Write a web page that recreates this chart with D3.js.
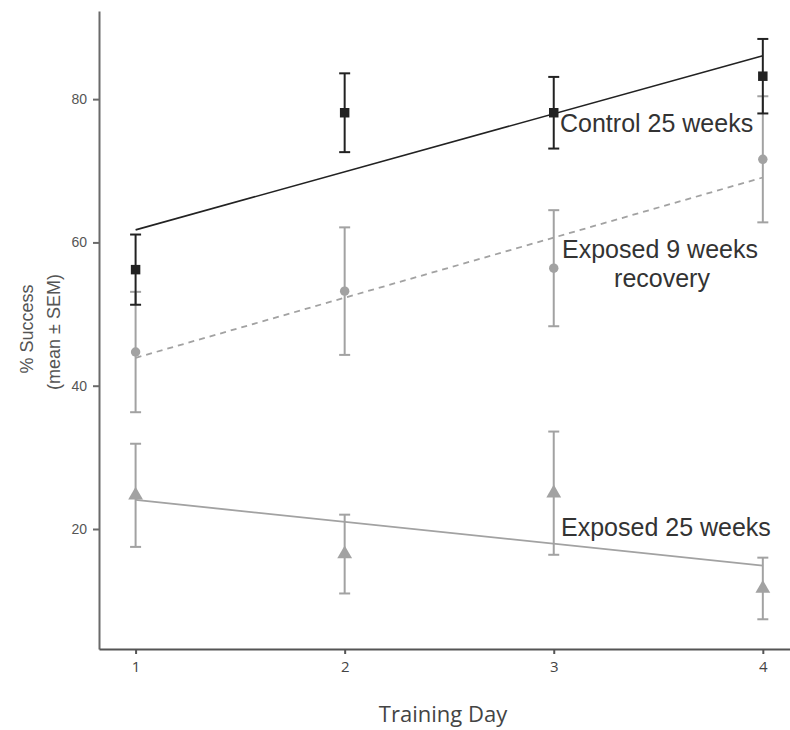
<!DOCTYPE html>
<html>
<head>
<meta charset="utf-8">
<script src="https://cdn.jsdelivr.net/npm/d3@7"></script>
<style>
  body { margin: 0; background: #fff; }
  svg { display: block; }
</style>
</head>
<body>
<div id="chart"></div>
<script>
// data
var days = [1, 2, 3, 4];
var controlMean = [56.2, 78.1, 78.1, 83.2];
var controlSem = [4.9, 5.5, 5.0, 5.2];
var recoveryMean = [44.7, 53.2, 56.4, 71.6];
var recoverySem = [8.4, 8.9, 8.1, 8.8];
var exposedMean = [24.7, 16.5, 25.0, 11.7];
var exposedSem = [7.2, 5.5, 8.6, 4.3];
var yTicks = [20, 40, 60, 80];
var seriesLabels = ['Control 25 weeks', 'Exposed 9 weeks', 'recovery', 'Exposed 25 weeks'];

var WIDTH = 790;
var HEIGHT = 730;
var DARK = '#222';
var GREY = '#a2a2a2';

var svg = d3.select('#chart')
  .append('svg')
    .attr('width', WIDTH)
    .attr('height', HEIGHT);

// set the ranges
var x = d3.scaleLinear().domain([0.825, 4.13]).range([99, 790]);
var y = d3.scaleLinear().domain([3.25, 92.3]).range([649, 11]);

function rows(means, sems) {
  return days.map(function (d, i) { return { day: d, mean: means[i], sem: sems[i] }; });
}

// least squares line through the means
function fitLine(data) {
  var mx = d3.mean(data, function (d) { return d.day; });
  var my = d3.mean(data, function (d) { return d.mean; });
  var sxy = d3.sum(data, function (d) { return (d.day - mx) * (d.mean - my); });
  var sxx = d3.sum(data, function (d) { return (d.day - mx) * (d.day - mx); });
  var b = sxy / sxx;
  var first = days[0], last = days[days.length - 1];
  return [{ day: first, mean: my + b * (first - mx) }, { day: last, mean: my + b * (last - mx) }];
}

var line = d3.line()
  .x(function (d) { return x(d.day); })
  .y(function (d) { return y(d.mean); });

var series = [
  { data: rows(exposedMean, exposedSem), color: GREY, dash: null, shape: d3.symbolTriangle, size: 95 },
  { data: rows(recoveryMean, recoverySem), color: GREY, dash: '6,5', shape: d3.symbolCircle, size: 70 },
  { data: rows(controlMean, controlSem), color: DARK, dash: null, shape: d3.symbolSquare, size: 90 }
];

// axes
var yAxis = svg.append('g')
  .attr('transform', 'translate(' + x.range()[0] + ',0)')
  .call(d3.axisLeft(y).tickValues(yTicks).tickSize(6).tickSizeOuter(0).tickPadding(6));

var xAxis = svg.append('g')
  .attr('transform', 'translate(0,' + y.range()[0] + ')')
  .call(d3.axisBottom(x).tickValues(days).tickSize(5).tickSizeOuter(0).tickPadding(7).tickFormat(d3.format('d')));

yAxis.selectAll('path, line').attr('stroke', '#6a6a6a').attr('stroke-width', 2);
xAxis.selectAll('path, line').attr('stroke', '#555').attr('stroke-width', 2);
yAxis.selectAll('text')
  .attr('fill', '#555')
  .style('font-family', '"Liberation Sans", Arial, sans-serif')
  .style('font-size', '14px');
xAxis.selectAll('text')
  .attr('fill', '#444')
  .style('font-family', '"Open Sans", sans-serif')
  .style('font-size', '15px');

// axis titles
svg.append('text')
  .attr('transform', 'translate(443,722)')
  .attr('text-anchor', 'middle')
  .attr('fill', '#444')
  .style('font-family', '"Open Sans", sans-serif')
  .style('font-size', '22px')
  .text('Training Day');

svg.append('text')
  .attr('transform', 'translate(33,329) rotate(-90)')
  .attr('text-anchor', 'middle')
  .attr('fill', '#555')
  .style('font-family', '"Liberation Sans", Arial, sans-serif')
  .style('font-size', '18px')
  .text('% Success');

svg.append('text')
  .attr('transform', 'translate(60,332) rotate(-90)')
  .attr('text-anchor', 'middle')
  .attr('fill', '#555')
  .style('font-family', '"Liberation Sans", Arial, sans-serif')
  .style('font-size', '18px')
  .text('(mean \u00b1 SEM)');

// fitted lines
series.forEach(function (s) {
  svg.append('path')
    .datum(fitLine(s.data))
    .attr('fill', 'none')
    .attr('stroke', s.color)
    .attr('stroke-width', s.color === DARK ? 1.6 : 1.8)
    .attr('stroke-dasharray', s.dash)
    .attr('d', line);
});

// error bars and points
series.forEach(function (s) {
  var g = svg.append('g');
  var bars = g.selectAll('.err')
    .data(s.data)
    .enter().append('g')
      .attr('class', 'err')
      .attr('stroke', s.color)
      .attr('stroke-width', s.color === DARK ? 2 : 2);
  bars.append('line')
    .attr('x1', function (d) { return x(d.day); })
    .attr('x2', function (d) { return x(d.day); })
    .attr('y1', function (d) { return y(d.mean - d.sem); })
    .attr('y2', function (d) { return y(d.mean + d.sem); });
  [-1, 1].forEach(function (sign) {
    bars.append('line')
      .attr('x1', function (d) { return x(d.day) - 5.5; })
      .attr('x2', function (d) { return x(d.day) + 5.5; })
      .attr('y1', function (d) { return y(d.mean + sign * d.sem); })
      .attr('y2', function (d) { return y(d.mean + sign * d.sem); });
  });

  g.selectAll('.pt')
    .data(s.data)
    .enter().append('path')
      .attr('class', 'pt')
      .attr('fill', s.color)
      .attr('transform', function (d) { return 'translate(' + x(d.day) + ',' + y(d.mean) + ')'; })
      .attr('d', d3.symbol().type(s.shape).size(s.size));
});

// series labels
var labelPos = [
  { x: 560, y: 132, anchor: 'start' },
  { x: 562, y: 258, anchor: 'start' },
  { x: 662, y: 287, anchor: 'middle' },
  { x: 561, y: 536, anchor: 'start' }
];
svg.append('g').selectAll('text')
  .data(seriesLabels)
  .enter().append('text')
    .attr('x', function (d, i) { return labelPos[i].x; })
    .attr('y', function (d, i) { return labelPos[i].y; })
    .attr('text-anchor', function (d, i) { return labelPos[i].anchor; })
    .attr('fill', '#333')
    .style('font-family', '"Liberation Sans", Arial, sans-serif')
    .style('font-size', '25px')
    .text(function (d) { return d; });
</script>
</body>
</html>
